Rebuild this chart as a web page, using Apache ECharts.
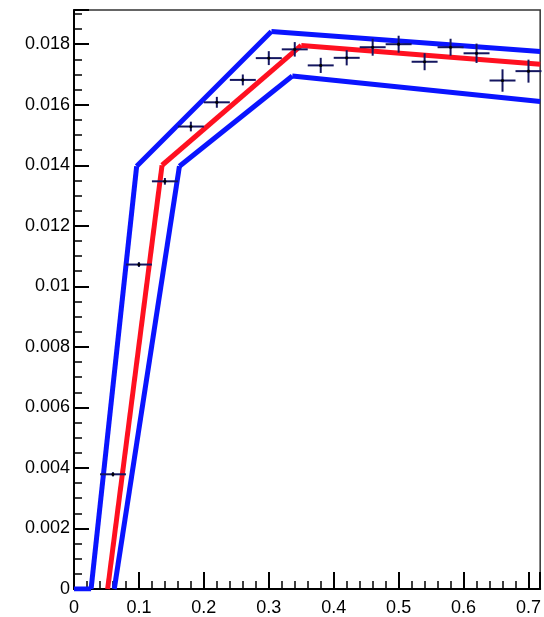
<!DOCTYPE html>
<html>
<head>
<meta charset="utf-8">
<script src="https://cdn.jsdelivr.net/npm/echarts@6/dist/echarts.min.js"></script>
<style>
  html, body { margin: 0; padding: 0; background: #ffffff; }
  #chart { width: 544px; height: 617px; }
</style>
</head>
<body>
<div id="chart"></div>
<script>
// Measured points: bin centres, values and vertical uncertainties
const binCenters = [0.06, 0.10, 0.14, 0.18, 0.22, 0.26, 0.30, 0.34, 0.38, 0.42, 0.46, 0.50, 0.54, 0.58, 0.62, 0.66, 0.70];
const binValues  = [0.00379, 0.01072, 0.01347, 0.01528, 0.01608, 0.01682, 0.01754, 0.01783, 0.01730, 0.01755, 0.01790, 0.01800, 0.01742, 0.01790, 0.01770, 0.01680, 0.01711];
const binErrors  = [0.00007, 0.00008, 0.00011, 0.00016, 0.00018, 0.00018, 0.00023, 0.00024, 0.00025, 0.00025, 0.00028, 0.00028, 0.00028, 0.00028, 0.00032, 0.00037, 0.00038];
const binHalfWidth = 0.02;

// Model curve (central) and its upper / lower envelope, as [x, y] knots
const centralCurve = [[0.0518, 0], [0.1356, 0.01400], [0.3500, 0.01796], [0.7180, 0.01734]];
const upperCurve   = [[0, 0], [0.0263, 0], [0.0965, 0.01397], [0.3040, 0.01842], [0.7180, 0.01776]];
const lowerCurve   = [[0.0620, 0], [0.1624, 0.01397], [0.3362, 0.01695], [0.7180, 0.01611]];

// Axis ranges and tick spacing
const xRange = [0, 0.718];
const yRange = [0, 0.01913];
const xStep = 0.1;
const yStep = 0.002;

const BLUE = '#0a14ff';
const RED = '#ff1020';
const MARK = '#141660';
const FONT = '"Liberation Sans", Arial, Helvetica, sans-serif';

// Each knot-to-knot piece is its own series so corners keep butt-capped ends
function segmentSeries(points, color) {
  const out = [];
  for (let i = 0; i < points.length - 1; i++) {
    out.push({
      type: 'line',
      data: [points[i], points[i + 1]],
      showSymbol: false,
      symbol: 'none',
      silent: true,
      z: 3,
      lineStyle: { color: color, width: 5, cap: 'butt' }
    });
  }
  return out;
}

const fmt = v => String(+(+v).toFixed(4));

const chart = echarts.init(document.getElementById('chart'), null, { renderer: 'canvas' });

chart.setOption({
  animation: false,
  backgroundColor: '#ffffff',
  grid: {
    left: 74, right: 1, top: 10, bottom: 27,
    show: true, borderColor: '#333333', borderWidth: 1.5,
    containLabel: false
  },
  xAxis: {
    type: 'value',
    min: xRange[0], max: xRange[1], interval: xStep,
    axisLine: { show: true, lineStyle: { color: '#000', width: 2 } },
    axisTick: { show: true, inside: true, length: 17, lineStyle: { color: '#000', width: 2 } },
    minorTick: { show: true, splitNumber: 5, length: 8, lineStyle: { color: '#000', width: 1.5 } },
    splitLine: { show: false },
    axisLabel: {
      color: '#000', fontSize: 18, fontFamily: FONT, margin: 10,
      showMaxLabel: false, formatter: fmt
    }
  },
  yAxis: {
    type: 'value',
    min: yRange[0], max: yRange[1], interval: yStep,
    axisLine: { show: true, lineStyle: { color: '#000', width: 2 } },
    axisTick: { show: true, inside: true, length: 15, lineStyle: { color: '#000', width: 2 } },
    minorTick: { show: true, splitNumber: 4, length: 8, lineStyle: { color: '#000', width: 1.5 } },
    splitLine: { show: false },
    axisLabel: {
      color: '#000', fontSize: 18, fontFamily: FONT, margin: 4,
      showMaxLabel: false, formatter: fmt
    }
  },
  series: [
    ...segmentSeries(upperCurve, BLUE),
    ...segmentSeries(lowerCurve, BLUE),
    ...segmentSeries(centralCurve, RED),
    {
      type: 'custom',
      z: 5,
      silent: true,
      data: binCenters.map((x, i) => [x, binValues[i], binErrors[i]]),
      encode: { x: 0, y: 1 },
      renderItem: function (params, api) {
        const x = api.value(0), y = api.value(1), e = api.value(2);
        const l = api.coord([x - binHalfWidth, y]);
        const r = api.coord([x + binHalfWidth, y]);
        const t = api.coord([x, y + e]);
        const b = api.coord([x, y - e]);
        const c = api.coord([x, y]);
        return {
          type: 'group',
          children: [
            { type: 'line', shape: { x1: l[0], y1: l[1], x2: r[0], y2: r[1] },
              style: { stroke: MARK, lineWidth: 2 } },
            { type: 'line', shape: { x1: t[0], y1: t[1], x2: b[0], y2: b[1] },
              style: { stroke: MARK, lineWidth: 2 } },
            { type: 'circle', shape: { cx: c[0], cy: c[1], r: 1.6 },
              style: { fill: '#000' } }
          ]
        };
      }
    }
  ]
});
</script>
</body>
</html>
